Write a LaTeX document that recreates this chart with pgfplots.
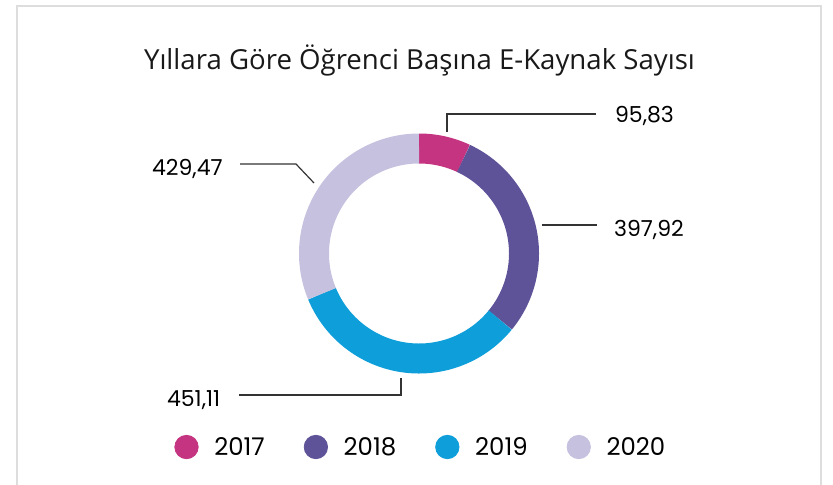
\documentclass[border=0pt]{standalone}
\usepackage{pgfplots}
\pgfplotsset{compat=1.18}
\usepackage{fontspec}
\setmainfont{Open Sans}
\newfontfamily\numfont{Poppins}
\definecolor{cA}{HTML}{C43480}
\definecolor{cB}{HTML}{5E5398}
\definecolor{cC}{HTML}{0E9EDA}
\definecolor{cD}{HTML}{C5C1DF}
\definecolor{frame}{HTML}{DDDDDD}
% values
\def\vA{95.83}\def\vB{397.92}\def\vC{451.11}\def\vD{429.47}
\pgfmathsetmacro\tot{\vA+\vB+\vC+\vD}
\pgfmathsetmacro\aA{90-(\vA/\tot)*360}
\pgfmathsetmacro\aB{\aA-(\vB/\tot)*360}
\pgfmathsetmacro\aC{\aB-(\vC/\tot)*360}
\pgfmathsetmacro\aD{\aC-(\vD/\tot)*360}
\begin{document}
\begin{tikzpicture}
\begin{axis}[
  x=0.5pt, y=0.5pt,
  xmin=0, xmax=833, ymin=0, ymax=484,
  hide axis, clip=false,
  legend columns=4,
  legend style={draw=none, fill=none, at={(axis cs:174,37)}, anchor=west,
    font=\numfont\fontsize{12.2}{14}\selectfont,
    inner sep=0pt, nodes={inner sep=0pt},
    /tikz/every odd column/.append style={column sep=7.85pt},
    /tikz/every even column/.append style={column sep=19.5pt}},
]
\draw[frame, line width=1pt] (axis cs:17,-10) -- (axis cs:17,478.5) -- (axis cs:821,478.5) -- (axis cs:821,-10);
\addplot[forget plot, cA, line width=15pt, domain=\aA:90, samples=40, variable=\t] ({419+105*cos(\t)},{230.5+105*sin(\t)});
\addplot[forget plot, cB, line width=15pt, domain=\aB:\aA, samples=80, variable=\t] ({419+105*cos(\t)},{230.5+105*sin(\t)});
\addplot[forget plot, cC, line width=15pt, domain=\aC:\aB, samples=80, variable=\t] ({419+105*cos(\t)},{230.5+105*sin(\t)});
\addplot[forget plot, cD, line width=15pt, domain=\aD:\aC, samples=80, variable=\t] ({419+105*cos(\t)},{230.5+105*sin(\t)});
% leader lines
\addplot[forget plot, black!80, line width=0.6pt] coordinates {(447,352) (447,370) (596,370)};
\addplot[forget plot, black!80, line width=0.6pt] coordinates {(240,320) (296,320) (314,301)};
\addplot[forget plot, black!80, line width=0.6pt] coordinates {(542,259) (597,259)};
\addplot[forget plot, black!80, line width=0.6pt] coordinates {(239,89) (401,89) (401,106)};
\addlegendimage{legend image code/.code={\fill[cA] (0pt,0.3pt) circle (5.85pt);}}
\addlegendimage{legend image code/.code={\fill[cB] (0pt,0.3pt) circle (5.85pt);}}
\addlegendimage{legend image code/.code={\fill[cC] (0pt,0.3pt) circle (5.85pt);}}
\addlegendimage{legend image code/.code={\fill[cD] (0pt,0.3pt) circle (5.85pt);}}
\legend{2017,2018,2019,2020}
\node[anchor=base, font=\fontsize{13.8}{16}\selectfont, text=black!90] at (axis cs:419.5,415) {Yıllara Göre Öğrenci Başına E-Kaynak Sayısı};
\node[anchor=base west, font=\numfont\fontsize{11}{13}\selectfont] at (axis cs:608,362) {95,83};
\node[anchor=base west, font=\numfont\fontsize{11}{13}\selectfont] at (axis cs:607,248) {397,92};
\node[anchor=base west, font=\numfont\fontsize{11}{13}\selectfont] at (axis cs:145,309) {429,47};
\node[anchor=base west, font=\numfont\fontsize{11}{13}\selectfont] at (axis cs:160,78) {451,11};
\end{axis}
\pgfresetboundingbox
\path (current axis.south west) rectangle (current axis.north east);
\end{tikzpicture}
\end{document}
